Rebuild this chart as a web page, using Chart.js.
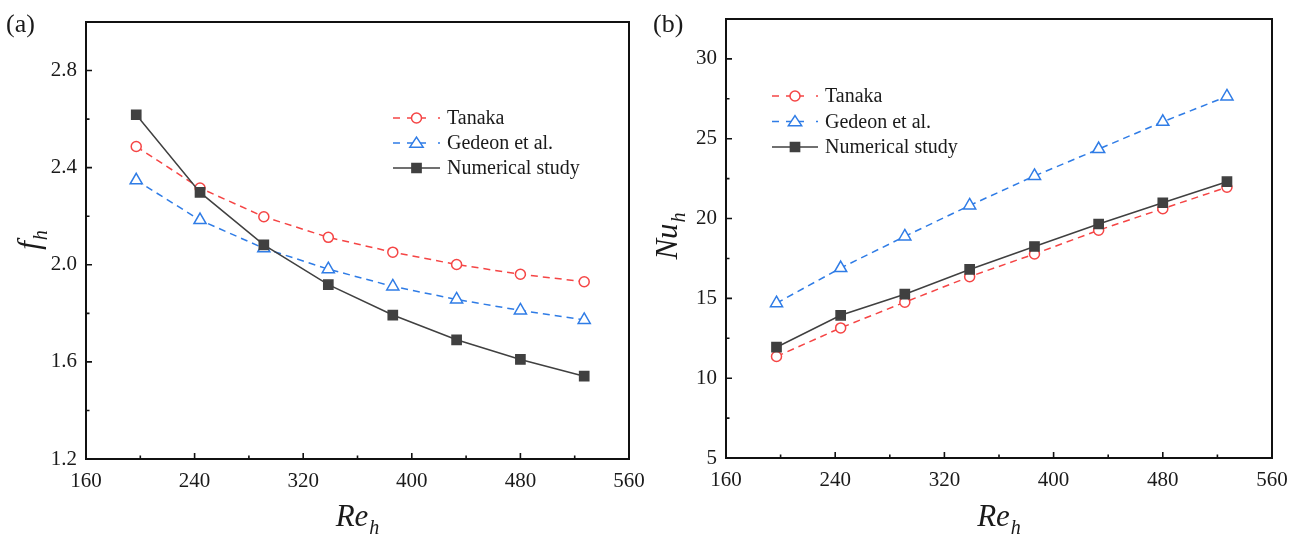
<!DOCTYPE html>
<html><head><meta charset="utf-8">
<script src="https://cdn.jsdelivr.net/npm/chart.js@4.4.1/dist/chart.umd.min.js"></script>
<style>
html,body{margin:0;padding:0;background:#fff;width:1300px;height:541px;overflow:hidden}
.p{position:absolute;top:0;width:650px;height:541px}
</style></head><body>
<div class="p" style="left:0"><canvas id="ca" width="650" height="541"></canvas></div>
<div class="p" style="left:650px"><canvas id="cb" width="650" height="541"></canvas></div>
<script>
// ---- data ----
const reynolds = [197, 244, 291, 338.5, 386, 433, 480, 527];
const fTanaka = [2.487, 2.316, 2.198, 2.113, 2.052, 2.001, 1.961, 1.930];
const fGedeon = [2.348, 2.184, 2.068, 1.982, 1.911, 1.857, 1.812, 1.773];
const fNumerical = [2.618, 2.298, 2.082, 1.918, 1.793, 1.691, 1.610, 1.541];
const nuTanaka = [11.36, 13.15, 14.76, 16.36, 17.78, 19.27, 20.62, 21.96];
const nuGedeon = [14.70, 16.90, 18.88, 20.82, 22.67, 24.35, 26.06, 27.65];
const nuNumerical = [11.94, 13.94, 15.26, 16.81, 18.25, 19.66, 20.99, 22.31];
const xTicks = [160, 240, 320, 400, 480, 560];
const fTicks = [1.2, 1.6, 2.0, 2.4, 2.8];
const nuTicks = [5, 10, 15, 20, 25, 30];
const seriesNames = ['Tanaka', 'Gedeon et al.', 'Numerical study'];

const RED = '#F54545', BLUE = '#2F7CE6', GRAY = '#404040';
const SERIF = '"Liberation Serif", "Times New Roman", serif';

function pts(xs, ys){ return xs.map((x,i)=>({x:x, y:ys[i]})); }

function drawMarker(ctx, style, x, y, r, stroke, fill){
  ctx.save();
  ctx.setLineDash([]);
  ctx.lineWidth = 1.5; ctx.strokeStyle = stroke; ctx.fillStyle = fill;
  ctx.beginPath();
  if (style === 'circle') { ctx.arc(x, y, r, 0, Math.PI*2); }
  else if (style === 'triangle') {
    const w = r*0.95;
    ctx.moveTo(x, y - r*0.85); ctx.lineTo(x + w, y + r*0.6); ctx.lineTo(x - w, y + r*0.6); ctx.closePath();
  } else { const s = r*Math.SQRT1_2; ctx.rect(x - s, y - s, 2*s, 2*s); }
  ctx.fill(); ctx.stroke();
  ctx.restore();
}

function drawSub(ctx, main, sub, size, cx, cy, rot){
  ctx.save();
  ctx.translate(cx, cy); if (rot) ctx.rotate(rot);
  const subSize = Math.round(size*0.66);
  ctx.font = 'italic ' + size + 'px ' + SERIF;
  const w1 = ctx.measureText(main).width;
  ctx.font = 'italic ' + subSize + 'px ' + SERIF;
  const w2 = ctx.measureText(sub).width;
  const x0 = -(w1 + w2 + 1)/2;
  ctx.fillStyle = '#1a1a1a'; ctx.textBaseline = 'middle'; ctx.textAlign = 'left';
  ctx.font = 'italic ' + size + 'px ' + SERIF;
  ctx.fillText(main, x0, 0);
  ctx.font = 'italic ' + subSize + 'px ' + SERIF;
  ctx.fillText(sub, x0 + w1 + 1, size*0.34);
  ctx.restore();
}

function makeChart(id, c){
  const framePlugin = {
    id: 'frame' + id,
    afterDraw(chart){
      const ctx = chart.ctx, a = chart.chartArea;
      const sx = chart.scales.x, sy = chart.scales.y;
      ctx.save();
      ctx.setLineDash([]);
      ctx.strokeStyle = '#111'; ctx.lineWidth = 2;
      ctx.strokeRect(a.left, a.top, a.right - a.left, a.bottom - a.top);
      ctx.lineWidth = 1.6;
      ctx.beginPath();
      for (let i = 0; i < xTicks.length; i++) {
        const px = sx.getPixelForValue(xTicks[i]);
        ctx.moveTo(px, a.bottom); ctx.lineTo(px, a.bottom - 6);
        if (i < xTicks.length - 1) {
          const pm = sx.getPixelForValue((xTicks[i] + xTicks[i+1]) / 2);
          ctx.moveTo(pm, a.bottom); ctx.lineTo(pm, a.bottom - 3.5);
        }
      }
      const yt = c.yTicks;
      for (let i = 0; i < yt.length; i++) {
        const py = sy.getPixelForValue(yt[i]);
        ctx.moveTo(a.left, py); ctx.lineTo(a.left + 6, py);
        const mid = yt[i] + (yt[1] - yt[0]) / 2;
        if (mid < c.yMax) {
          const pm = sy.getPixelForValue(mid);
          ctx.moveTo(a.left, pm); ctx.lineTo(a.left + 3.5, pm);
        }
      }
      ctx.stroke();
      // panel label
      ctx.fillStyle = '#1a1a1a';
      ctx.font = '26px ' + SERIF; ctx.textAlign = 'left'; ctx.textBaseline = 'middle';
      ctx.fillText(c.panel, c.panelX, 25);
      // axis titles
      drawSub(ctx, 'Re', 'h', 31, (a.left + a.right)/2, 518, 0);
      drawSub(ctx, c.yMain, 'h', 31, c.yTitleX, c.yTitleY, -Math.PI/2);
      // legend
      const L = c.legend;
      chart.data.datasets.forEach((ds, i) => {
        const y = L.y + i * L.dy;
        const mx = (L.x0 + L.x1)/2;
        ctx.save();
        ctx.strokeStyle = ds.borderColor; ctx.lineWidth = 1.5; ctx.setLineDash([]);
        ctx.beginPath();
        if (ds.borderDash && ds.borderDash.length) {
          ctx.moveTo(L.x0, y); ctx.lineTo(L.x0 + 7, y);
          ctx.moveTo(L.x0 + 14, y); ctx.lineTo(L.x1 - 14, y);
          ctx.moveTo(L.x1 - 2, y); ctx.lineTo(L.x1, y);
        } else {
          ctx.moveTo(L.x0, y); ctx.lineTo(L.x1, y);
        }
        ctx.stroke();
        ctx.restore();
        drawMarker(ctx, ds.pointStyle, mx, y, ds.pointRadius, ds.pointBorderColor, ds.pointBackgroundColor);
        ctx.fillStyle = '#1a1a1a';
        ctx.font = '20px ' + SERIF; ctx.textAlign = 'left'; ctx.textBaseline = 'middle';
        ctx.fillText(ds.label, L.tx, y + 1);
      });
      ctx.restore();
    }
  };
  const tickFont = {family: SERIF, size: 21};
  const mk = (label, data, color, dash, style, r, fill, order) => ({
    label, data, borderColor: color, borderWidth: 1.5, borderDash: dash,
    pointStyle: style, pointRadius: r, pointHoverRadius: r,
    pointBorderColor: color, pointBackgroundColor: fill, pointBorderWidth: 1.5,
    tension: 0, fill: false, order
  });
  return new Chart(document.getElementById(id), {
    type: 'line',
    data: { datasets: [
      mk(seriesNames[0], pts(reynolds, c.tanaka), RED, [7,5], 'circle', 5, '#fff', 2),
      mk(seriesNames[1], pts(reynolds, c.gedeon), BLUE, [7,5], 'triangle', 7, '#fff', 1),
      mk(seriesNames[2], pts(reynolds, c.numerical), GRAY, [], 'rect', 6.5, GRAY, 0)
    ]},
    options: {
      responsive: false, animation: false, devicePixelRatio: 1,
      layout: { padding: { top: c.area.top, right: 650 - c.area.right, left: 0, bottom: 0 } },
      plugins: { legend: { display: false }, tooltip: { enabled: false } },
      scales: {
        x: {
          type: 'linear', min: 160, max: 560,
          afterBuildTicks: s => { s.ticks = xTicks.map(v => ({value: v})); },
          afterFit: s => { s.height = 541 - c.area.bottom; s.paddingLeft = 0; s.paddingRight = 0; },
          grid: { display: false, drawTicks: false }, border: { display: false },
          ticks: { font: tickFont, color: '#1a1a1a', padding: 10, maxRotation: 0, autoSkip: false,
                   callback: v => String(v) }
        },
        y: {
          type: 'linear', min: c.yMin, max: c.yMax,
          afterBuildTicks: s => { s.ticks = c.yTicks.map(v => ({value: v})); },
          afterFit: s => { s.width = c.area.left; s.paddingTop = 0; s.paddingBottom = 0; },
          grid: { display: false, drawTicks: false }, border: { display: false },
          ticks: { font: tickFont, color: '#1a1a1a', padding: 9, autoSkip: false,
                   callback: v => c.fmt(v) }
        }
      }
    },
    plugins: [framePlugin]
  });
}

makeChart('ca', {
  area: {left: 86, top: 22, right: 629, bottom: 459},
  yMin: 1.2, yMax: 3.0, yTicks: fTicks, fmt: v => v.toFixed(1),
  tanaka: fTanaka, gedeon: fGedeon, numerical: fNumerical,
  panel: '(a)', panelX: 6, yMain: 'f', yTitleX: 31, yTitleY: 240,
  legend: {x0: 393, x1: 440, tx: 447, y: 118, dy: 25}
});
makeChart('cb', {
  area: {left: 76, top: 19, right: 622, bottom: 458},
  yMin: 5, yMax: 32.5, yTicks: nuTicks, fmt: v => String(v),
  tanaka: nuTanaka, gedeon: nuGedeon, numerical: nuNumerical,
  panel: '(b)', panelX: 3, yMain: 'Nu', yTitleX: 19, yTitleY: 236,
  legend: {x0: 122, x1: 168, tx: 175, y: 96, dy: 25.5}
});
</script>
</body></html>
